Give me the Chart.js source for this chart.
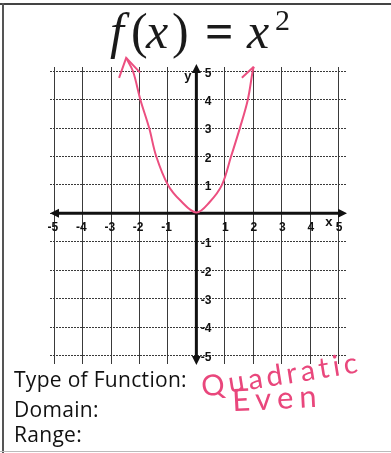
<!DOCTYPE html>
<html>
<head>
<meta charset="utf-8">
<script src="https://cdn.jsdelivr.net/npm/chart.js@4.4.1/dist/chart.umd.min.js"></script>
<style>
  html, body { margin: 0; padding: 0; background: #fff; }
  #wrap { position: relative; width: 391px; height: 453px; overflow: hidden; }
  #chart { position: absolute; left: 0; top: 0; }
  .frame-top { position: absolute; left: 0; top: 3px; width: 391px; height: 2px; background: #444; }
  .frame-left { position: absolute; left: 2px; top: 3px; width: 2px; height: 450px; background: #555; }
  .frame-bottom { position: absolute; left: 0; top: 451px; width: 391px; height: 1px; background: #bbb; }
  .t { position: absolute; top: 6px; font: 50px 'Liberation Serif', serif; line-height: 50px; color: #1a1a1a; }
  .t.i { font-style: italic; }
  .t.sup { font-size: 30px; line-height: 30px; top: 5px; }
  .lbl { position: absolute; left: 14px; font: 21px 'Open Sans', sans-serif; letter-spacing: 0.3px; color: #111; line-height: 20px; }
  .hand { position: absolute; color: #e9477c; font: 400 29px Lato, 'Open Sans', sans-serif; }
</style>
</head>
<body>
<div id="wrap">
  <canvas id="chart" width="391" height="453"></canvas>
  <div class="frame-top"></div>
  <div class="frame-left"></div>
  <div class="frame-bottom"></div>
  <span class="t i" style="left:110px">f</span>
  <span class="t" style="left:131px">(</span>
  <span class="t i" style="left:146px">x</span>
  <span class="t" style="left:172px">)</span>
  <span class="t" style="left:205px; font-weight:bold">=</span>
  <span class="t i" style="left:247px">x</span>
  <span class="t sup" style="left:275px">2</span>
  <div class="lbl" style="top:369px">Type of Function:</div>
  <div class="lbl" style="top:399px">Domain:</div>
  <div class="lbl" style="top:424px">Range:</div>
  <div class="hand" style="left:204px; top:368px; letter-spacing:4px; transform: rotate(-9deg); transform-origin: left bottom;">Quadratic</div>
  <div class="hand" style="left:232px; top:378px; font-size:31px; letter-spacing:6px; transform: rotate(-3deg);">Even</div>
</div>
<script>
// grid / tick values
const xTicks = [-5, -4, -3, -2, -1, 0, 1, 2, 3, 4, 5];
const yTicks = [-5, -4, -3, -2, -1, 0, 1, 2, 3, 4, 5];
const xTickLabels = ['-5', '-4', '-3', '-2', '-1', '', '1', '2', '3', '4', '5'];
const yTickLabels = ['-5', '-4', '-3', '-2', '-1', '', '1', '2', '3', '4', '5'];

// hand drawn parabola
const curveX = [-2.47, -2.23, -1.97, -1.66, -1.41, -1.0, -0.56, 0, 0.47, 0.9, 1.22, 1.53, 1.81, 1.98, 2.02];
const curveY = [5.47, 5.0, 4.0, 3.0, 2.0, 1.0, 0.45, 0.03, 0.4, 1.0, 2.0, 3.0, 4.0, 5.0, 5.16];

// little arrow heads at the ends of the curve
const leftArrowX = [-2.72, -2.47, -1.98];
const leftArrowY = [4.77, 5.47, 4.95];
const rightArrowX = [1.6, 2.02];
const rightArrowY = [4.77, 5.16];

const pink = '#ec4f80';

function toPoints(xs, ys) {
    return xs.map((x, i) => ({ x: x, y: ys[i] }));
}

// draws the two main axes with arrows plus the tick numbers
const axesPlugin = {
    id: 'axesPlugin',
    beforeDatasetsDraw(chart) {
        const ctx = chart.ctx;
        const xs = chart.scales.x;
        const ys = chart.scales.y;
        const x0 = xs.getPixelForValue(0);
        const y0 = ys.getPixelForValue(0);
        const area = chart.chartArea;

        ctx.save();
        ctx.strokeStyle = '#111';
        ctx.fillStyle = '#111';
        ctx.lineWidth = 3;

        // x axis
        ctx.beginPath();
        ctx.moveTo(area.left + 6, y0);
        ctx.lineTo(area.right - 6, y0);
        ctx.stroke();
        arrow(ctx, area.left, y0, 1, 0);
        arrow(ctx, area.right, y0, -1, 0);

        // y axis
        ctx.beginPath();
        ctx.moveTo(x0, area.top + 2);
        ctx.lineTo(x0, area.bottom - 6);
        ctx.stroke();
        arrow(ctx, x0, area.top - 3, 0, 1);
        arrow(ctx, x0, area.bottom + 1, 0, -1);

        ctx.font = 'bold 12px "Liberation Sans", Arial, sans-serif';
        ctx.textBaseline = 'middle';
        ctx.textAlign = 'right';
        xTicks.forEach((v, i) => {
            if (!xTickLabels[i]) return;
            ctx.fillText(xTickLabels[i], xs.getPixelForValue(v) + 4, y0 + 14);
        });
        yTicks.forEach((v, i) => {
            if (!yTickLabels[i]) return;
            ctx.fillText(yTickLabels[i], x0 + 15, ys.getPixelForValue(v) + 2);
        });

        ctx.font = 'bold 13px "Liberation Sans", Arial, sans-serif';
        ctx.fillText('x', xs.getPixelForValue(5) - 6, y0 + 9);
        ctx.fillText('y', x0 - 5, ys.getPixelForValue(5) + 5);
        ctx.restore();

        function arrow(c, tx, ty, dx, dy) {
            const len = 9, half = 4.5;
            c.beginPath();
            c.moveTo(tx, ty);
            c.lineTo(tx + dx * len - dy * half, ty + dy * len - dx * half);
            c.lineTo(tx + dx * len + dy * half, ty + dy * len + dx * half);
            c.closePath();
            c.fill();
        }
    }
};

const lineStyle = {
    showLine: true,
    borderColor: pink,
    borderWidth: 2,
    pointRadius: 0,
    fill: false,
    clip: false
};

new Chart(document.getElementById('chart'), {
    type: 'scatter',
    data: {
        datasets: [
            Object.assign({ label: 'f(x)', data: toPoints(curveX, curveY), tension: 0.35 }, lineStyle),
            Object.assign({ label: 'left arrow', data: toPoints(leftArrowX, leftArrowY), tension: 0 }, lineStyle),
            Object.assign({ label: 'right arrow', data: toPoints(rightArrowX, rightArrowY), tension: 0 }, lineStyle)
        ]
    },
    options: {
        responsive: false,
        devicePixelRatio: 1,
        animation: false,
        layout: { padding: { left: 50, right: 44, top: 67, bottom: 89 } },
        plugins: {
            legend: { display: false },
            tooltip: { enabled: false }
        },
        scales: {
            x: {
                type: 'linear',
                min: -5.15,
                max: 5.3,
                afterBuildTicks: (scale) => { scale.ticks = xTicks.map(v => ({ value: v })); },
                ticks: { display: false },
                grid: { color: '#3a3a3a', lineWidth: 1, drawTicks: false },
                border: { display: false }
            },
            y: {
                type: 'linear',
                min: -5.3,
                max: 5.15,
                afterBuildTicks: (scale) => { scale.ticks = yTicks.map(v => ({ value: v })); },
                ticks: { display: false },
                grid: { color: '#3a3a3a', lineWidth: 1, drawTicks: false },
                border: { display: false, dash: [2, 1] }
            }
        }
    },
    plugins: [axesPlugin]
});
</script>
</body>
</html>
